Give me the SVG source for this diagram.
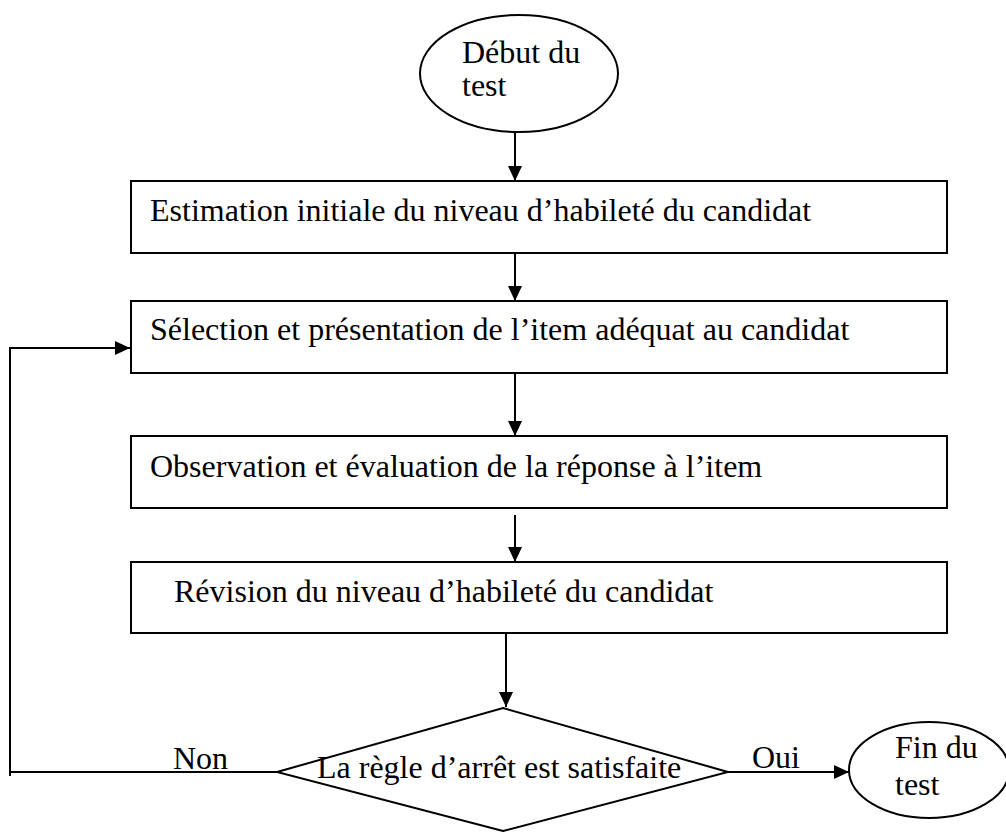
<svg xmlns="http://www.w3.org/2000/svg" width="1006" height="832" viewBox="0 0 1006 832">
  <defs>
    <marker id="arrow" viewBox="0 0 15 14" refX="15" refY="7" markerWidth="15" markerHeight="14" markerUnits="userSpaceOnUse" orient="auto">
      <path d="M0,0 L15,7 L0,14 Z" fill="#000"/>
    </marker>
    <style>
      .shape { fill: #fff; stroke: #000; stroke-width: 2; }
      .label { font-family: "Liberation Serif", "Times New Roman", serif; font-size: 32px; fill: #000; }
      .link { fill: none; stroke: #000; stroke-width: 2; }
      .arrowed { marker-end: url(#arrow); }
    </style>
  </defs>
  <rect width="1006" height="832" fill="#fff"/>

  <!-- connectors -->
  <g id="connectors">
    <line class="link arrowed" x1="515" y1="132" x2="515" y2="181"/>
    <line class="link arrowed" x1="515" y1="254" x2="515" y2="301"/>
    <line class="link arrowed" x1="515" y1="373" x2="515" y2="436"/>
    <line class="link arrowed" x1="515" y1="515" x2="515" y2="562"/>
    <line class="link arrowed" x1="506" y1="634" x2="506" y2="707"/>
    <line class="link arrowed" x1="728" y1="772" x2="849" y2="772"/>
    <polyline class="link arrowed" points="277,772 10,772 10,348 130,348"/>
    <line class="link" x1="10" y1="772" x2="10" y2="776"/>
    <text class="label" x="173" y="769">Non</text>
    <text class="label" x="752" y="768">Oui</text>
  </g>

  <g id="start">
    <ellipse class="shape" cx="519" cy="73.5" rx="99" ry="58.5"/>
    <text class="label" x="462" y="63">Début du</text>
    <text class="label" x="462" y="96">test</text>
  </g>

  <g id="estimation">
    <rect class="shape" x="131" y="181" width="816" height="72"/>
    <text class="label" x="150" y="221">Estimation initiale du niveau d’habileté du candidat</text>
  </g>

  <g id="selection">
    <rect class="shape" x="131" y="301" width="816" height="72"/>
    <text class="label" x="150" y="340">Sélection et présentation de l’item adéquat au candidat</text>
  </g>

  <g id="observation">
    <rect class="shape" x="131" y="436" width="816" height="72"/>
    <text class="label" x="150" y="477">Observation et évaluation de la réponse à l’item</text>
  </g>

  <g id="revision">
    <rect class="shape" x="131" y="562" width="816" height="71"/>
    <text class="label" x="174" y="602">Révision du niveau d’habileté du candidat</text>
  </g>

  <g id="stop-rule">
    <polygon class="shape" points="503,708 728,772 503,831 277,772"/>
    <text class="label" x="317" y="778">La règle d’arrêt est satisfaite</text>
  </g>

  <g id="end">
    <ellipse class="shape" cx="929" cy="770" rx="80" ry="48"/>
    <text class="label" x="895" y="758">Fin du</text>
    <text class="label" x="895" y="795">test</text>
  </g>
</svg>
